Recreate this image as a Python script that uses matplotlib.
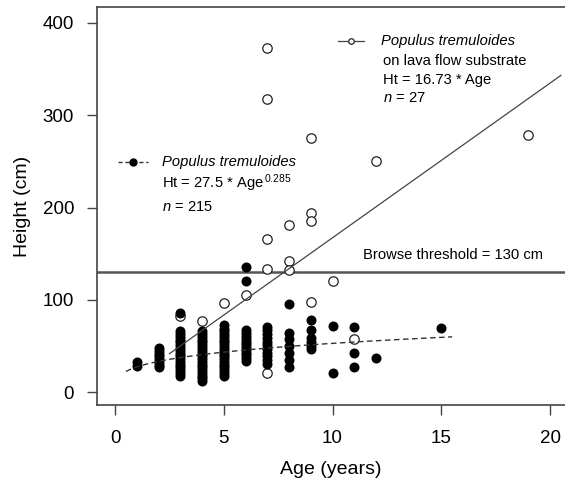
import matplotlib
matplotlib.use("Agg")
import matplotlib.pyplot as plt
import numpy as np

plt.rcParams['font.family'] = ['Liberation Sans', 'DejaVu Sans']
plt.rcParams['mathtext.fontset'] = 'custom'
plt.rcParams['mathtext.rm'] = 'Liberation Sans'
plt.rcParams['mathtext.it'] = 'Liberation Sans:italic'

# Populus tremuloides (filled), heights (cm) by age (years)
filled_ages = {
    1: [29, 33],
    2: [27, 30, 33, 36, 39, 42, 45, 48],
    3: [18, 21, 24, 27, 30, 33, 36, 39, 42, 45, 48, 51, 54, 57, 60, 63, 66, 86],
    4: [12, 15, 18, 21, 24, 27, 30, 33, 36, 39, 42, 45, 48, 51, 54, 57, 60, 63, 66],
    5: [18, 21, 24, 27, 30, 33, 36, 39, 42, 45, 48, 51, 54, 57, 60, 63, 66, 69, 73],
    6: [34, 37, 40, 43, 46, 49, 52, 55, 58, 61, 64, 68, 121, 136],
    7: [31, 35, 39, 43, 47, 51, 55, 59, 63, 67, 71],
    8: [27, 35, 43, 50, 58, 64, 96],
    9: [47, 50, 54, 59, 67, 78],
    10: [21, 72],
    11: [27, 43, 71],
    12: [37],
    15: [70],
}

# Populus tremuloides on lava flow substrate (open)
lava_age = [3, 4, 5, 6, 7, 7, 7, 7, 7, 8, 8, 8, 9, 9, 9, 9, 10, 11, 12, 19]
lava_ht = [83, 77, 97, 105, 373, 317, 166, 133, 21, 181, 142, 132, 275, 194, 185, 98, 121, 58, 250, 278]

# fits
pow_a, pow_b = 27.5, 0.285
pow_range = [0.5, 15.5]
lin_a = 16.73
lin_range = [2.5, 20.5]
threshold = 130

x_ticks = [0, 5, 10, 15, 20]
y_ticks = [0, 100, 200, 300, 400]

fig = plt.figure(figsize=(5.65, 4.78), dpi=100)
ax = fig.add_axes([97/565, 1-405/478, (565-97)/565, (405-7)/478])

fx = []
fy = []
for a, hs in filled_ages.items():
    fx += [a]*len(hs)
    fy += hs

dark = '#333333'
ax.axhline(threshold, color='#555555', lw=1.8, zorder=1)
ax.scatter(lava_age, lava_ht, s=46, facecolor='white', edgecolor='#222222', linewidths=0.9, zorder=2)
ax.scatter(fx, fy, s=52, color='black', linewidths=0, zorder=3)

xp = np.linspace(pow_range[0], pow_range[1], 200)
ax.plot(xp, pow_a*xp**pow_b, color=dark, lw=1.0, ls=(0, (4, 2.5)), zorder=4)
xl = np.array(lin_range)
ax.plot(xl, lin_a*xl, color='#444444', lw=0.9, zorder=4)

ax.set_xlim(-0.83, (565-115)/21.75)
ax.set_ylim(-13.7, 417)
ax.set_xticks(x_ticks)
ax.set_yticks(y_ticks)
for s in ['left', 'bottom', 'top']:
    ax.spines[s].set_color('#444444')
    ax.spines[s].set_linewidth(1.2)
ax.spines['right'].set_visible(False)
ax.tick_params(direction='out', length=7.5, width=1.0, color='#444444', labelsize=13.5, pad=9)
ax.tick_params(axis='x', pad=10.5)
ax.set_xlabel('Age (years)', fontsize=14, labelpad=10)
ax.set_ylabel('Height (cm)', fontsize=14, labelpad=8)

fs = 10.6
# legend 1
ax.plot([0.045, 0.109], [0.611, 0.611], transform=ax.transAxes, color=dark, lw=1, ls=(0, (3, 2)))
ax.plot([0.077], [0.611], transform=ax.transAxes, marker='o', ms=5, color='black')
ax.text(0.139, 0.611, 'Populus tremuloides', transform=ax.transAxes, fontsize=fs, style='italic', va='center')
ax.text(0.139, 0.557, r'Ht = 27.5 * Age$^{\,\mathrm{0.285}}$', transform=ax.transAxes, fontsize=fs, va='center')
ax.text(0.139, 0.498, r'$\mathit{n}$ = 215', transform=ax.transAxes, fontsize=fs, va='center')

# legend 2
ax.plot([0.514, 0.571], [0.915, 0.915], transform=ax.transAxes, color='#444444', lw=0.9)
ax.plot([0.5425], [0.915], transform=ax.transAxes, marker='o', ms=4, mfc='white', mec='#222222', mew=0.9)
ax.text(0.607, 0.915, 'Populus tremuloides', transform=ax.transAxes, fontsize=fs, style='italic', va='center')
ax.text(0.611, 0.864, 'on lava flow substrate', transform=ax.transAxes, fontsize=fs, va='center')
ax.text(0.611, 0.817, 'Ht = 16.73 * Age', transform=ax.transAxes, fontsize=fs, va='center')
ax.text(0.611, 0.771, r'$\mathit{n}$ = 27', transform=ax.transAxes, fontsize=fs, va='center')

ax.text(0.568, 0.377, 'Browse threshold = 130 cm', transform=ax.transAxes, fontsize=fs, va='center')

fig.savefig('out.png', dpi=100)
